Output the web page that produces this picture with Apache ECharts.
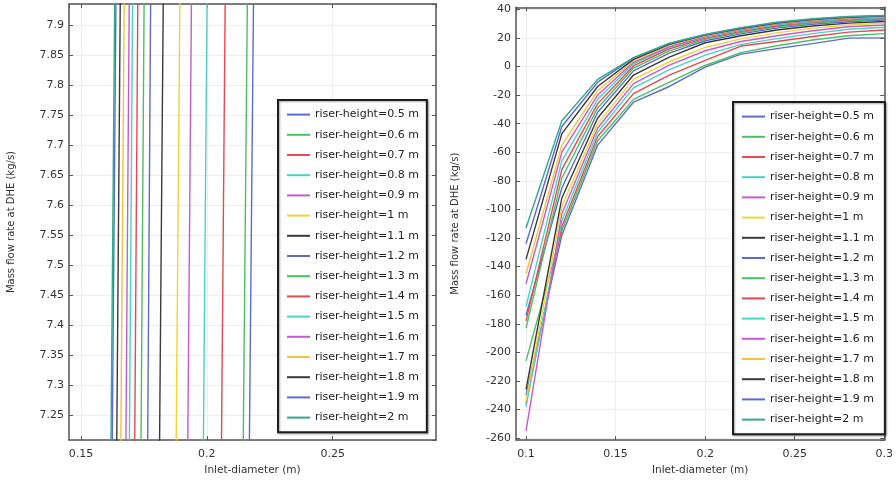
<!DOCTYPE html>
<html>
<head>
<meta charset="utf-8">
<script src="https://cdn.jsdelivr.net/npm/echarts@6/dist/echarts.min.js"></script>
<style>
html,body{margin:0;padding:0;background:#fff;}
#chart{width:896px;height:481px;}
</style>
</head>
<body>
<div id="chart"></div>
<script>
// Inlet diameter (m) sample points
const diameters = [0.10, 0.12, 0.14, 0.16, 0.18, 0.20, 0.22, 0.24, 0.26, 0.28, 0.30];
// riser heights (m)
const riserHeights = ['0.5','0.6','0.7','0.8','0.9','1','1.1','1.2','1.3','1.4','1.5','1.6','1.7','1.8','1.9','2'];
// Mass flow rate at DHE (kg/s) for each riser height
const flow_0_5 = [-230, -118, -55, -25, -14, -0.4, 8.6, 12.5, 16.0, 19.8, 20.0];
const flow_0_6 = [-206, -115, -52, -23, -11, 0.7, 9.7, 14.5, 18.5, 21.5, 23.0];
const flow_0_7 = [-236, -112, -49, -19, -6, 4.3, 14.3, 17.5, 21.0, 24.0, 25.5];
const flow_0_8 = [-238, -108, -46, -15, -2.2, 7.9, 15.5, 19.5, 23.0, 26.0, 27.4];
const flow_0_9 = [-255, -103, -43, -12, 1.0, 11.0, 17.5, 21.5, 25.0, 27.8, 29.0];
const flow_1_0 = [-234, -98, -40, -9, 3.3, 13.3, 19.3, 23.5, 26.8, 29.0, 30.2];
const flow_1_1 = [-226, -92, -36, -6, 6.6, 16.6, 21.5, 25.5, 28.3, 30.3, 31.5];
const flow_1_2 = [-174, -85, -32, -3.1, 9.4, 18.0, 22.8, 26.8, 29.5, 31.3, 32.5];
const flow_1_3 = [-183, -78, -29, -1.1, 10.9, 19.0, 23.8, 27.8, 30.4, 32.0, 33.2];
const flow_1_4 = [-178, -72, -26, 0.4, 12.4, 19.8, 24.6, 28.5, 31.0, 32.6, 33.8];
const flow_1_5 = [-168, -66, -23, 1.9, 13.4, 20.5, 25.3, 29.1, 31.5, 33.1, 34.3];
const flow_1_6 = [-152, -60, -20, 2.9, 13.9, 21.0, 25.8, 29.6, 32.0, 33.6, 34.7];
const flow_1_7 = [-145, -55, -17, 4.0, 15.0, 21.5, 26.2, 30.0, 32.4, 34.0, 35.0];
const flow_1_8 = [-135, -47, -14, 5.0, 15.5, 21.9, 26.6, 30.4, 32.8, 34.4, 35.3];
const flow_1_9 = [-124, -42, -11, 6.0, 16.0, 22.2, 26.9, 30.7, 33.1, 34.7, 35.5];
const flow_2_0 = [-113, -38, -9, 6.25, 16.25, 22.5, 27.2, 31.0, 33.4, 35.0, 35.7];
const flows = [flow_0_5, flow_0_6, flow_0_7, flow_0_8, flow_0_9, flow_1_0, flow_1_1, flow_1_2,
               flow_1_3, flow_1_4, flow_1_5, flow_1_6, flow_1_7, flow_1_8, flow_1_9, flow_2_0];

const colors = ['#5a6bd2','#4cbf62','#e8484f','#48d4c2','#c65ad4','#f0d23c','#3a3a3a',
                '#5a6bd2','#4cbf62','#e8484f','#48d4c2','#c65ad4','#f3c23e','#3a3a3a','#5a6bd2','#2fa88c'];

const FONT = 'DejaVu Sans';
const names = riserHeights.map(h => 'riser-height=' + h + ' m');

function makeSeries(gridIdx) {
  return flows.map((arr, i) => ({
    name: names[i],
    type: 'line',
    xAxisIndex: gridIdx * 2,
    yAxisIndex: gridIdx * 2,
    symbol: 'none',
    clip: true,
    silent: true,
    animation: false,
    color: colors[i],
    lineStyle: { width: 1.4, color: colors[i] },
    data: diameters.map((d, k) => [d, arr[k]])
  }));
}

const axisLineStyle = { show: true, onZero: false, lineStyle: { color: '#555', width: 1.5 } };
const labelStyle = { color: '#333', fontFamily: FONT, fontSize: 11 };
const nameStyle = { color: '#333', fontFamily: FONT, fontSize: 10 };
const splitStyle = { show: true, lineStyle: { color: '#eeeeee', width: 1 } };

function mainX(gi, min, max, split, showMax) {
  return {
    type: 'value', gridIndex: gi, min: min, max: max, splitNumber: split, position: 'bottom',
    name: 'Inlet-diameter (m)', nameLocation: 'middle', nameGap: 21,
    nameTextStyle: Object.assign({}, nameStyle, { fontSize: 10.5 }),
    axisLine: axisLineStyle,
    axisTick: { show: true, inside: true, length: 4, lineStyle: { color: '#555' } },
    axisLabel: Object.assign({ showMinLabel: false, showMaxLabel: showMax, margin: 9 }, labelStyle),
    splitLine: splitStyle
  };
}
function mirrorX(gi, min, max, split) {
  return {
    type: 'value', gridIndex: gi, min: min, max: max, splitNumber: split, position: 'top',
    axisLine: axisLineStyle,
    axisTick: { show: true, inside: true, length: 4, lineStyle: { color: '#555' } },
    axisLabel: { show: false }, splitLine: { show: false }
  };
}
function mainY(gi, min, max, split, gap) {
  return {
    type: 'value', gridIndex: gi, min: min, max: max, splitNumber: split, position: 'left',
    name: 'Mass flow rate at DHE (kg/s)', nameLocation: 'middle', nameGap: gap,
    nameTextStyle: nameStyle,
    axisLine: axisLineStyle,
    axisTick: { show: true, inside: true, length: 4, lineStyle: { color: '#555' } },
    axisLabel: Object.assign({ showMinLabel: false, showMaxLabel: false, margin: 5 }, labelStyle),
    splitLine: splitStyle
  };
}
function mirrorY(gi, min, max, split) {
  return {
    type: 'value', gridIndex: gi, min: min, max: max, splitNumber: split, position: 'right',
    axisLine: axisLineStyle,
    axisTick: { show: true, inside: true, length: 4, lineStyle: { color: '#555' } },
    axisLabel: { show: false }, splitLine: { show: false }
  };
}

function legend(left, top, padRight) {
  return {
    orient: 'vertical', left: left, top: top,
    data: names,
    itemWidth: 23, itemHeight: 14, itemGap: 9,
    itemStyle: { color: 'rgba(0,0,0,0)', borderWidth: 0, opacity: 0 },
    padding: [9, padRight, 9, 8],
    backgroundColor: '#fff',
    borderColor: '#1e1e1e', borderWidth: 2,
    shadowColor: 'rgba(0,0,0,0.35)', shadowBlur: 2, shadowOffsetX: 1, shadowOffsetY: 1,
    textStyle: { color: '#222', fontFamily: FONT, fontSize: 11 },
    selectedMode: false
  };
}

const chart = echarts.init(document.getElementById('chart'), null, { renderer: 'canvas' });
chart.setOption({
  backgroundColor: '#fff',
  animation: false,
  grid: [
    { left: 69, top: 4, width: 367, height: 438, show: true, backgroundColor: '#fff', borderWidth: 0 },
    { left: 516, top: 7.3, width: 370.7, height: 434.7, show: true, backgroundColor: '#fff', borderWidth: 0 }
  ],
  xAxis: [
    mainX(0, 0.14523, 0.29104, 3, false),
    mirrorX(0, 0.14523, 0.29104, 3),
    mainX(1, 0.0944, 0.3, 4, true),
    mirrorX(1, 0.0944, 0.3, 4)
  ],
  yAxis: [
    mainY(0, 7.2091, 7.9348, 14, 53),
    mirrorY(0, 7.2091, 7.9348, 14),
    mainY(1, -261.4, 41.4, 15, 56),
    mirrorY(1, -261.4, 41.4, 15)
  ],
  legend: [legend(278, 100, 8), legend(733, 102, 11)],
  series: makeSeries(0).concat(makeSeries(1))
});
</script>
</body>
</html>
